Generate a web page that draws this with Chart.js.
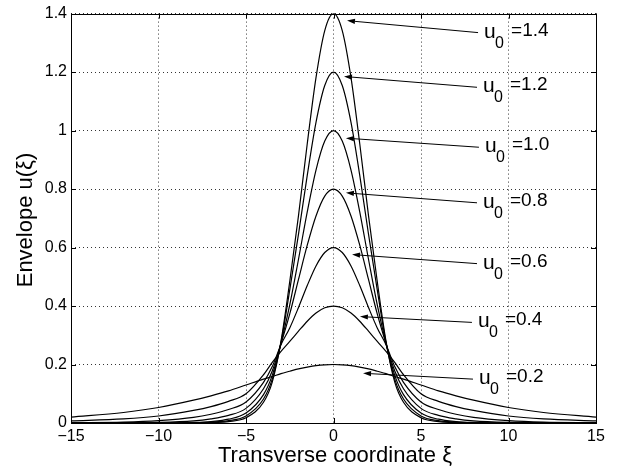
<!DOCTYPE html>
<html>
<head>
<meta charset="utf-8">
<script src="https://cdn.jsdelivr.net/npm/chart.js@4"></script>
<style>
  body { margin: 0; background: #fff; }
  canvas { display: block; }
</style>
</head>
<body>
<canvas id="chart" width="618" height="468"></canvas>
<script>
"use strict";

// transverse coordinate samples
const xi = [-15, -12, -10, -8, -7, -6, -5, -4, -3.5, -3, -2.5, -2, -1.5, -1, -0.5, 0,
  0.5, 1, 1.5, 2, 2.5, 3, 3.5, 4, 5, 6, 7, 8, 10, 12, 15];

// envelope values, one array per amplitude
const u02 = [0.020, 0.036, 0.053, 0.078, 0.093, 0.110, 0.130, 0.150, 0.159, 0.169, 0.177, 0.185, 0.191, 0.196, 0.199, 0.200,
  0.199, 0.196, 0.191, 0.185, 0.177, 0.169, 0.159, 0.150, 0.130, 0.110, 0.093, 0.078, 0.053, 0.036, 0.020];
const u04 = [0.007, 0.014, 0.024, 0.043, 0.056, 0.074, 0.100, 0.165, 0.207, 0.245, 0.279, 0.314, 0.348, 0.376, 0.394, 0.400,
  0.394, 0.376, 0.348, 0.314, 0.279, 0.245, 0.207, 0.165, 0.100, 0.074, 0.056, 0.043, 0.024, 0.014, 0.007];
const u06 = [0.001, 0.003, 0.008, 0.019, 0.030, 0.046, 0.072, 0.139, 0.193, 0.268, 0.325, 0.395, 0.470, 0.537, 0.583, 0.600,
  0.583, 0.537, 0.470, 0.395, 0.325, 0.268, 0.193, 0.139, 0.072, 0.046, 0.030, 0.019, 0.008, 0.003, 0.001];
const u08 = [0.000, 0.001, 0.002, 0.007, 0.014, 0.026, 0.050, 0.117, 0.178, 0.271, 0.373, 0.491, 0.608, 0.708, 0.776, 0.800,
  0.776, 0.708, 0.608, 0.491, 0.373, 0.271, 0.178, 0.117, 0.050, 0.026, 0.014, 0.007, 0.002, 0.001, 0.000];
const u10 = [0.000, 0.000, 0.000, 0.002, 0.005, 0.013, 0.034, 0.097, 0.163, 0.273, 0.404, 0.560, 0.722, 0.865, 0.964, 1.000,
  0.964, 0.865, 0.722, 0.560, 0.404, 0.273, 0.163, 0.097, 0.034, 0.013, 0.005, 0.002, 0.000, 0.000, 0.000];
const u12 = [0.000, 0.000, 0.000, 0.001, 0.003, 0.008, 0.024, 0.082, 0.150, 0.275, 0.455, 0.646, 0.847, 1.028, 1.154, 1.200,
  1.154, 1.028, 0.847, 0.646, 0.455, 0.275, 0.150, 0.082, 0.024, 0.008, 0.003, 0.001, 0.000, 0.000, 0.000];
const u14 = [0.000, 0.000, 0.000, 0.000, 0.001, 0.005, 0.018, 0.071, 0.140, 0.280, 0.484, 0.709, 0.955, 1.181, 1.342, 1.400,
  1.342, 1.181, 0.955, 0.709, 0.484, 0.280, 0.140, 0.071, 0.018, 0.005, 0.001, 0.000, 0.000, 0.000, 0.000];

const curves = [u02, u04, u06, u08, u10, u12, u14];

// annotation labels and where their arrows start / point to (data units)
const amplitudes = ["0.2", "0.4", "0.6", "0.8", "1.0", "1.2", "1.4"];
const tipX = [1.69, 1.51, 1.06, 0.71, 0.71, 0.60, 0.77];
const tipY = [0.170, 0.364, 0.576, 0.787, 0.974, 1.185, 1.376];
const tailX = [7.97, 7.91, 8.20, 8.20, 8.31, 8.20, 8.26];
const tailY = [0.150, 0.344, 0.545, 0.753, 0.943, 1.148, 1.335];

const xTicks = [-15, -10, -5, 0, 5, 10, 15];

const FONT = "'Liberation Sans', Arial, Helvetica, sans-serif";

const datasets = curves.map((ys) => ({
  data: ys.map((y, i) => ({ x: xi[i], y: y })),
  borderColor: "#000",
  borderWidth: 1.2,
  pointRadius: 0,
  fill: false,
  cubicInterpolationMode: "monotone",
}));

const decorations = {
  id: "decorations",
  afterDatasetsDraw(chart) {
    const ctx = chart.ctx;
    const a = chart.chartArea;
    const xs = chart.scales.x;
    const ys = chart.scales.y;
    ctx.save();

    // frame
    ctx.strokeStyle = "#000";
    ctx.lineWidth = 1;
    ctx.strokeRect(Math.round(a.left) + 0.5, Math.round(a.top) + 0.5,
      Math.round(a.right - a.left), Math.round(a.bottom - a.top));

    // inward ticks on all sides
    ctx.beginPath();
    xTicks.forEach((v) => {
      const px = Math.round(xs.getPixelForValue(v)) + 0.5;
      ctx.moveTo(px, a.bottom); ctx.lineTo(px, a.bottom - 5);
      ctx.moveTo(px, a.top); ctx.lineTo(px, a.top + 5);
    });
    for (let k = 0; k <= 7; k++) {
      const py = Math.round(ys.getPixelForValue(k * 0.2)) + 0.5;
      ctx.moveTo(a.left, py); ctx.lineTo(a.left + 5, py);
      ctx.moveTo(a.right, py); ctx.lineTo(a.right - 5, py);
    }
    ctx.stroke();

    // arrows and labels
    ctx.fillStyle = "#000";
    for (let i = 0; i < amplitudes.length; i++) {
      const x0 = xs.getPixelForValue(tailX[i]);
      const y0 = ys.getPixelForValue(tailY[i]);
      const x1 = xs.getPixelForValue(tipX[i]);
      const y1 = ys.getPixelForValue(tipY[i]);
      const ang = Math.atan2(y1 - y0, x1 - x0);
      const len = 8, hw = 2.6;
      const bx = x1 - len * Math.cos(ang);
      const by = y1 - len * Math.sin(ang);
      ctx.beginPath();
      ctx.moveTo(x0, y0);
      ctx.lineTo(bx, by);
      ctx.stroke();
      ctx.beginPath();
      ctx.moveTo(x1, y1);
      ctx.lineTo(bx + hw * Math.sin(ang), by - hw * Math.cos(ang));
      ctx.lineTo(bx - hw * Math.sin(ang), by + hw * Math.cos(ang));
      ctx.closePath();
      ctx.fill();

      ctx.textBaseline = "alphabetic";
      ctx.textAlign = "left";
      ctx.font = "21px " + FONT;
      ctx.fillText("u", x0 + 6, y0 + 5);
      ctx.font = "16px " + FONT;
      ctx.fillText("0", x0 + 17, y0 + 15);
      ctx.font = "19px " + FONT;
      ctx.fillText("=" + amplitudes[i], x0 + 33, y0 + 3);
    }

    // axis titles
    ctx.font = "22px " + FONT;
    ctx.textAlign = "center";
    ctx.fillText("Transverse coordinate ξ", 335, 462);
    ctx.translate(32, 220);
    ctx.rotate(-Math.PI / 2);
    ctx.fillText("Envelope u(ξ)", 0, 0);
    ctx.restore();
  },
};

new Chart(document.getElementById("chart"), {
  type: "line",
  data: { datasets: datasets },
  options: {
    responsive: false,
    animation: false,
    layout: { padding: { left: 0, top: 12, right: 22, bottom: 0 } },
    plugins: { legend: { display: false }, tooltip: { enabled: false } },
    scales: {
      x: {
        type: "linear",
        min: -15,
        max: 15,
        afterFit: (s) => { s.height = 45; },
        afterBuildTicks: (s) => { s.ticks = xTicks.map((v) => ({ value: v })); },
        grid: { color: "#000", lineWidth: 0.8, drawTicks: false },
        border: { display: false, dash: [1, 3] },
        ticks: {
          color: "#000",
          padding: 4,
          maxRotation: 0,
          font: { family: FONT, size: 16 },
          callback: (v) => String(v).replace("-", "\u2212"),
        },
      },
      y: {
        min: 0,
        max: 1.4,
        afterFit: (s) => { s.width = 71; },
        grid: { color: "#000", lineWidth: 0.8, drawTicks: false },
        border: { display: false, dash: [1, 3] },
        ticks: {
          stepSize: 0.2,
          color: "#000",
          padding: 4,
          font: { family: FONT, size: 16 },
          callback: (v) => String(Number(v.toFixed(1))),
        },
      },
    },
  },
  plugins: [decorations],
});
</script>
</body>
</html>
